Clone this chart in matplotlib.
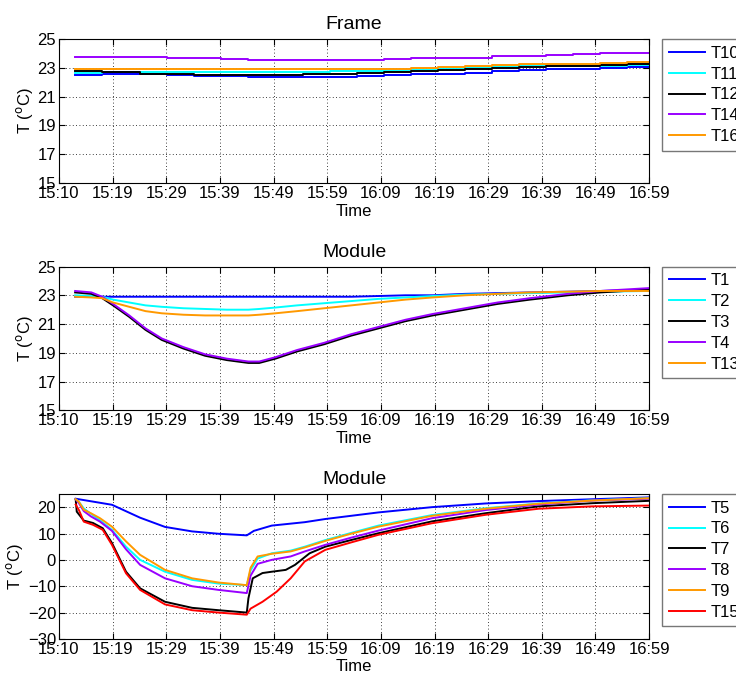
import matplotlib
matplotlib.use("Agg")
import matplotlib.pyplot as plt

plt.rcParams["font.family"] = ["Liberation Sans", "DejaVu Sans"]
plt.rcParams["font.size"] = 12

# time in minutes after 15:10
tick_pos = [0, 9.909, 19.818, 29.727, 39.636, 49.545, 59.455, 69.364, 79.273, 89.182, 99.091, 109]
tick_labels = ["15:10", "15:19", "15:29", "15:39", "15:49", "15:59",
               "16:09", "16:19", "16:29", "16:39", "16:49", "16:59"]

# ---- Frame ----
t_frame = [3, 8, 15, 20, 25, 30, 35, 40, 45, 50, 55, 60, 65, 70, 75, 80, 85, 90, 95, 100, 105, 109]
T10 = [22.5, 22.6, 22.55, 22.5, 22.45, 22.4, 22.35, 22.35, 22.35, 22.35, 22.45, 22.5,
       22.55, 22.6, 22.65, 22.75, 22.85, 22.9, 22.95, 23.0, 23.05, 23.1]
T11 = [22.65, 22.7, 22.7, 22.7, 22.7, 22.7, 22.7, 22.7, 22.7, 22.75, 22.75, 22.8,
       22.85, 22.95, 23.0, 23.05, 23.1, 23.1, 23.15, 23.15, 23.2, 23.2]
T12 = [22.8, 22.7, 22.6, 22.55, 22.5, 22.5, 22.5, 22.5, 22.55, 22.6, 22.65, 22.7,
       22.8, 22.85, 22.95, 23.0, 23.05, 23.1, 23.15, 23.2, 23.3, 23.3]
T14 = [23.75, 23.75, 23.75, 23.7, 23.65, 23.6, 23.55, 23.55, 23.55, 23.55, 23.55, 23.6,
       23.65, 23.7, 23.7, 23.8, 23.85, 23.9, 23.95, 24.0, 24.05, 24.05]
T16 = [22.9, 22.95, 22.95, 22.95, 22.95, 22.95, 22.95, 22.95, 22.95, 22.95, 22.95, 22.95,
       23.0, 23.05, 23.1, 23.2, 23.25, 23.3, 23.3, 23.35, 23.4, 23.4]

# ---- Module (upper) ----
t_mod = [3, 6, 8, 10, 13, 16, 19, 23, 27, 31, 35, 37, 40, 44, 49, 54, 59, 64, 69,
         75, 81, 87, 94, 100, 109]
T1 = [22.9, 22.9, 22.9, 22.9, 22.9, 22.9, 22.9, 22.9, 22.9, 22.9, 22.9, 22.9, 22.9,
      22.9, 22.9, 22.9, 22.95, 23.0, 23.0, 23.1, 23.15, 23.2, 23.25, 23.3, 23.4]
T2 = [23.0, 22.95, 22.9, 22.7, 22.5, 22.3, 22.2, 22.1, 22.05, 22.0, 22.0, 22.05, 22.15,
      22.3, 22.45, 22.6, 22.75, 22.85, 22.95, 23.05, 23.1, 23.15, 23.2, 23.25, 23.3]
T3 = [23.2, 23.1, 22.8, 22.3, 21.5, 20.6, 19.9, 19.3, 18.8, 18.5, 18.3, 18.3, 18.6,
      19.1, 19.6, 20.2, 20.7, 21.2, 21.6, 22.0, 22.4, 22.7, 23.0, 23.2, 23.4]
T4 = [23.3, 23.2, 22.9, 22.4, 21.6, 20.7, 20.0, 19.4, 18.9, 18.6, 18.4, 18.4, 18.7,
      19.2, 19.7, 20.3, 20.8, 21.3, 21.7, 22.1, 22.5, 22.8, 23.1, 23.3, 23.5]
T13 = [22.9, 22.85, 22.8, 22.5, 22.2, 21.9, 21.75, 21.65, 21.6, 21.6, 21.6, 21.65, 21.75,
       21.9, 22.1, 22.3, 22.5, 22.7, 22.85, 23.0, 23.1, 23.2, 23.25, 23.3, 23.3]

# ---- Module (lower) ----
t5 = [3.1, 9.8, 15.0, 19.6, 24.6, 29.5, 34.7, 36.0, 39.3, 45.4, 49.2, 59.0, 68.9, 78.8, 88.6, 98.5, 109]
T5 = [23.2, 20.9, 16.0, 12.5, 10.8, 9.9, 9.3, 11.0, 13.0, 14.3, 15.5, 18.0, 20.0, 21.4, 22.3, 23.0, 23.7]

t_low = [3.1, 3.7, 4.6, 5.9, 7.6, 9.8, 12.4, 15.0, 19.6, 24.6, 29.5, 34.7, 35.4, 36.7,
         39.3, 42.8, 45.4, 49.2, 54.1, 59.0, 68.9, 78.8, 88.6, 98.5, 109]
T6 = [23.0, 22.0, 19.5, 17.5, 15.0, 11.4, 5.0, 0.0, -4.5, -7.6, -9.0, -9.6, -4.0, 0.5,
      2.5, 3.5, 5.0, 7.5, 10.3, 13.0, 17.0, 19.6, 21.4, 22.6, 23.4]
T8 = [23.0, 21.5, 18.5, 16.5, 14.5, 11.0, 4.0, -1.9, -7.0, -10.0, -11.4, -12.6, -6.0, -1.5,
      0.0, 1.3, 3.2, 5.7, 8.5, 11.1, 15.8, 18.9, 21.0, 22.5, 23.2]
T9 = [23.0, 22.0, 19.0, 17.7, 15.8, 12.6, 7.0, 1.9, -3.8, -7.0, -8.6, -9.6, -3.0, 1.3,
      2.3, 3.2, 4.7, 7.2, 10.0, 12.6, 16.7, 19.4, 21.3, 22.5, 23.4]

t7 = [3.1, 3.3, 4.6, 6.3, 8.1, 9.8, 12.4, 15.0, 19.6, 24.6, 29.5, 34.7, 35.0, 35.8, 37.6,
      39.3, 41.9, 43.6, 46.3, 49.2, 54.1, 59.0, 68.9, 78.8, 88.6, 98.5, 109]
T7 = [23.0, 18.3, 14.9, 14.0, 12.0, 6.4, -4.5, -10.8, -15.9, -18.2, -19.1, -20.0, -14.6, -7.0, -5.0,
      -4.5, -3.8, -1.9, 2.5, 5.0, 7.6, 10.1, 14.6, 17.7, 20.3, 21.5, 22.4]
t15 = [3.1, 3.7, 4.6, 6.3, 8.1, 9.8, 12.4, 15.0, 19.6, 24.6, 29.5, 34.7, 35.4, 37.6,
       40.2, 42.8, 45.4, 49.2, 54.1, 59.0, 68.9, 78.8, 88.6, 98.5, 109]
T15 = [21.0, 18.9, 14.5, 13.3, 11.4, 5.7, -5.1, -11.4, -16.9, -19.1, -20.0, -20.8, -18.5, -15.9,
       -12.1, -7.0, -0.6, 3.8, 6.7, 9.5, 13.9, 17.1, 19.4, 20.3, 20.6]

blue = "#0000ff"
cyan = "#00ffff"
purple = "#9900ff"
orange = "#ff9900"
red = "#ff0000"

fig = plt.figure(figsize=(7.36, 6.79), dpi=100)
ax1 = fig.add_axes([0.080, 0.7305, 0.802, 0.212])
ax2 = fig.add_axes([0.080, 0.3955, 0.802, 0.212])
ax3 = fig.add_axes([0.080, 0.059, 0.802, 0.2135])

lw = 1.4
ax1.plot(t_frame, T10, color=blue, lw=lw, drawstyle="steps-post", label="T10")
ax1.plot(t_frame, T11, color=cyan, lw=lw, drawstyle="steps-post", label="T11")
ax1.plot(t_frame, T12, color="black", lw=lw, drawstyle="steps-post", label="T12")
ax1.plot(t_frame, T14, color=purple, lw=lw, drawstyle="steps-post", label="T14")
ax1.plot(t_frame, T16, color=orange, lw=lw, drawstyle="steps-post", label="T16")

ax2.plot(t_mod, T1, color=blue, lw=lw, label="T1")
ax2.plot(t_mod, T2, color=cyan, lw=lw, label="T2")
ax2.plot(t_mod, T3, color="black", lw=lw, label="T3")
ax2.plot(t_mod, T4, color=purple, lw=lw, label="T4")
ax2.plot(t_mod, T13, color=orange, lw=lw, label="T13")

ax3.plot(t5, T5, color=blue, lw=lw, label="T5")
ax3.plot(t_low, T6, color=cyan, lw=lw, label="T6")
ax3.plot(t7, T7, color="black", lw=lw, label="T7")
ax3.plot(t_low, T8, color=purple, lw=lw, label="T8")
ax3.plot(t_low, T9, color=orange, lw=lw, label="T9")
ax3.plot(t15, T15, color=red, lw=lw, label="T15")

titles = ["Frame", "Module", "Module"]
for ax, title in zip([ax1, ax2, ax3], titles):
    ax.set_xlim(0, 109)
    ax.set_xticks(tick_pos)
    ax.set_xticklabels(tick_labels)
    ax.set_title(title, fontsize=14, pad=7)
    ax.set_xlabel("Time", labelpad=2)
    ax.set_ylabel("T ($^{\\mathrm{o}}$C)", labelpad=2)
    ax.grid(True, color="black", linestyle=(0, (1, 3)), linewidth=0.6)
    ax.tick_params(direction="in", length=4, pad=2, top=True, right=True)
    for s in ax.spines.values():
        s.set_linewidth(0.8)
    leg = ax.legend(loc="upper left", bbox_to_anchor=(1.022, 1.0), borderaxespad=0,
                    fancybox=False, edgecolor="#555555", handlelength=2.2,
                    labelspacing=0.35, borderpad=0.4, handletextpad=0.3)
    leg.get_frame().set_linewidth(1.0)

ax1.set_ylim(15, 25)
ax1.set_yticks([15, 17, 19, 21, 23, 25])
ax2.set_ylim(15, 25)
ax2.set_yticks([15, 17, 19, 21, 23, 25])
ax3.set_ylim(-30, 25)
ax3.set_yticks([-30, -20, -10, 0, 10, 20])

fig.savefig("out.png", dpi=100)
